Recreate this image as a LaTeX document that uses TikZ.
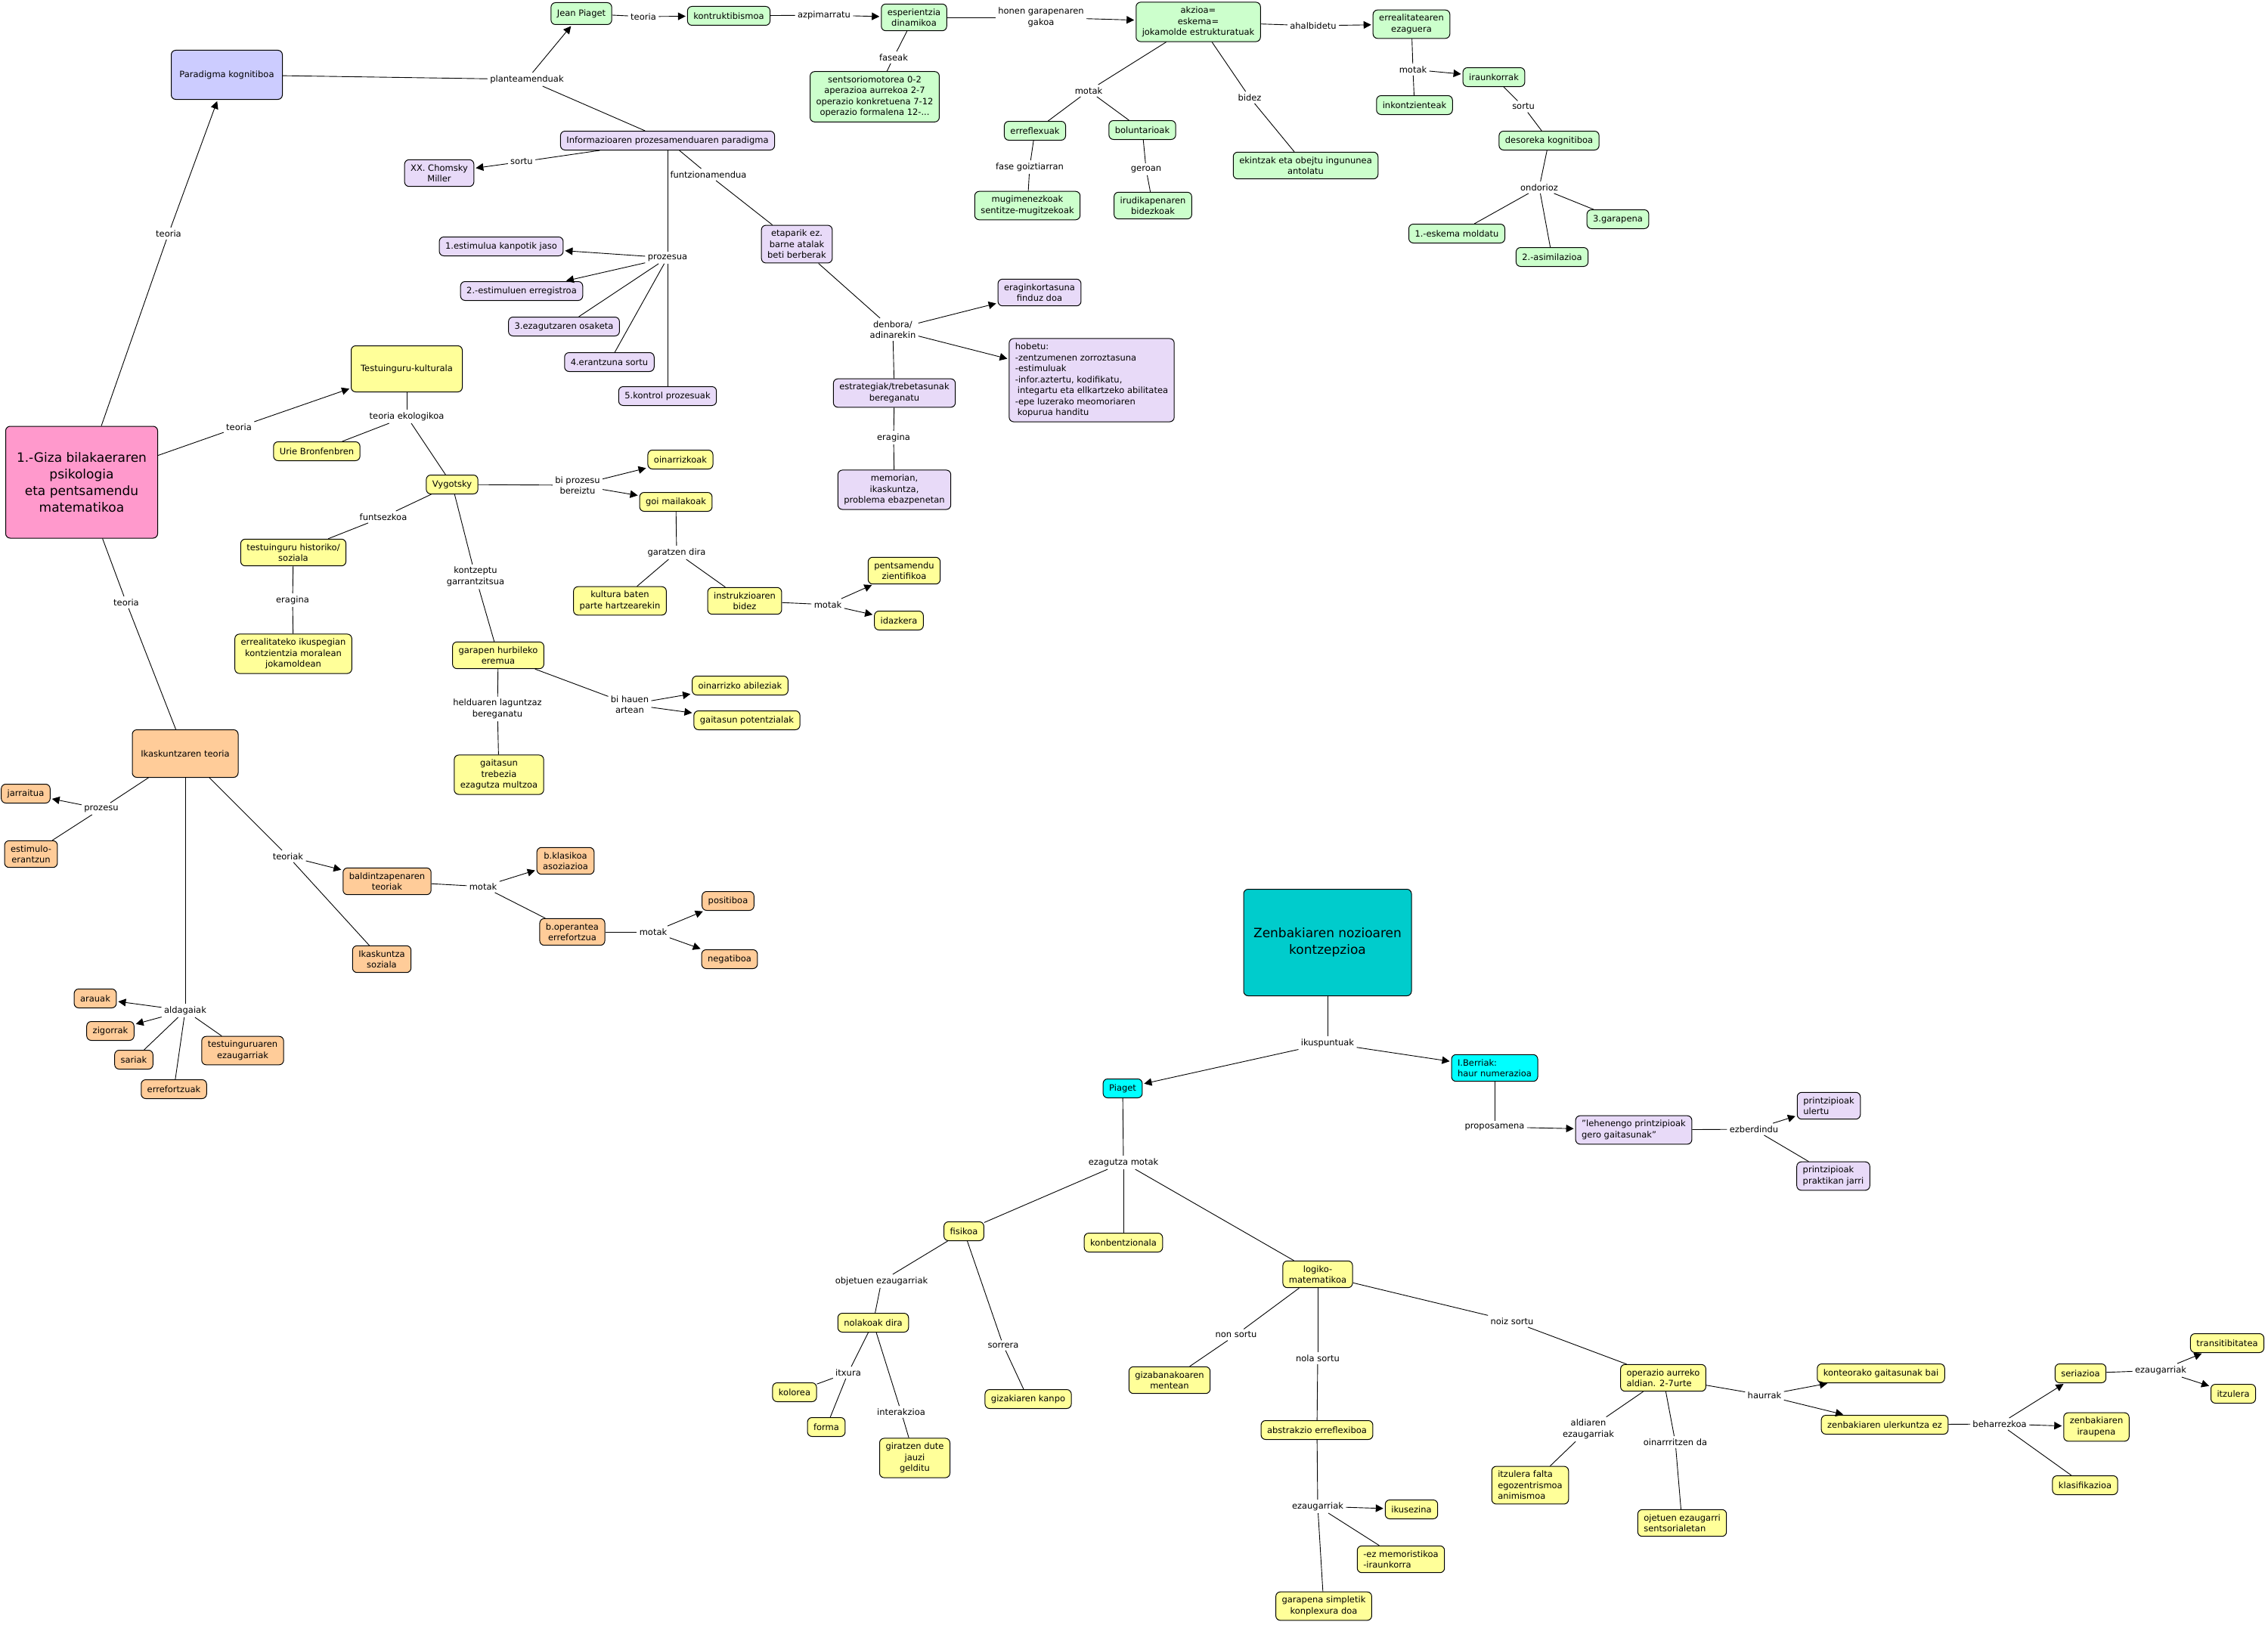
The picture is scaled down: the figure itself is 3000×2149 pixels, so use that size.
\documentclass[tikz,border=0pt]{standalone}
\usepackage{fontspec}
\setmainfont{DejaVu Sans}
\usepackage{tikz}
\usetikzlibrary{arrows.meta}
\definecolor{kolbluea}{RGB}{204,204,255}
\definecolor{kolberdea}{RGB}{204,255,204}
\definecolor{kolmorea}{RGB}{232,218,248}
\definecolor{kolhoria}{RGB}{255,255,153}
\definecolor{kollaranja}{RGB}{255,204,153}
\definecolor{kolarrosa}{RGB}{255,153,204}
\definecolor{kolteal}{RGB}{0,204,204}
\definecolor{kolcyan}{RGB}{0,255,255}
\tikzset{
  concept/.style={rectangle, rounded corners=6pt, draw=black, line width=1pt, align=center, inner xsep=8pt, inner ysep=6pt, minimum height=25pt, font=\fontsize{11.5}{14.5}\selectfont},
  bluebox/.style={concept, fill=kolbluea},
  greenbox/.style={concept, fill=kolberdea},
  lilabox/.style={concept, fill=kolmorea},
  yellowbox/.style={concept, fill=kolhoria},
  orangebox/.style={concept, fill=kollaranja},
  cyanbox/.style={concept, fill=kolcyan},
  bigbox/.style={concept, font=\fontsize{17}{22}\selectfont},
  linkword/.style={inner sep=3pt, align=center, font=\fontsize{11.5}{14.5}\selectfont},
  arrow/.style={->, shorten >=2pt}
}

\begin{document}
\begin{tikzpicture}[x=1pt, y=-1pt, line width=0.9pt, >={Triangle[length=10pt,width=10pt]}]
    \useasboundingbox (0,0) rectangle (3000,2149);

    % 1. Kontzeptu nagusia
    \node[bigbox, fill=kolarrosa, minimum width=201pt, minimum height=148pt] (main) at (108,638) {1.-Giza bilakaeraren\\psikologia\\eta pentsamendu\\matematikoa};

    % 2. Paradigma kognitiboa (berdeak eta moreak)
    \node[bluebox, minimum width=147pt, minimum height=65pt] (parad) at (300,99) {Paradigma kognitiboa};
    \node[greenbox, minimum height=29pt] (jpiaget) at (769,18) {Jean Piaget};
    \node[greenbox] (konstr) at (964,21) {kontruktibismoa};
    \node[greenbox] (esper) at (1209,23) {esperientzia\\dinamikoa};
    \node[greenbox] (akzioa) at (1585,29) {akzioa=\\eskema=\\jokamolde estrukturatuak};
    \node[greenbox] (errealit) at (1867,32) {errealitatearen\\ezaguera};
    \node[greenbox] (fases) at (1157,128) {sentsoriomotorea 0-2\\aperazioa aurrekoa 2-7\\operazio konkretuena 7-12\\operazio formalena 12-...};
    \node[greenbox] (errefl) at (1369,173) {erreflexuak};
    \node[greenbox] (bolunt) at (1511,172) {boluntarioak};
    \node[greenbox] (mugim) at (1359,272) {mugimenezkoak\\sentitze-mugitzekoak};
    \node[greenbox] (irudik) at (1525,272) {irudikapenaren\\bidezkoak};
    \node[greenbox] (ekintzak) at (1727,219) {ekintzak eta obejtu ingununea\\antolatu};
    \node[greenbox] (iraunk) at (1976,102) {iraunkorrak};
    \node[greenbox] (inkontz) at (1871,139) {inkontzienteak};
    \node[greenbox] (desoreka) at (2049,186) {desoreka kognitiboa};
    \node[greenbox] (eskema) at (1927,309) {1.-eskema moldatu};
    \node[greenbox] (asimil) at (2053,340) {2.-asimilazioa};
    \node[greenbox] (garapena) at (2140,290) {3.garapena};

    \node[lilabox] (infopar) at (883,186) {Informazioaren prozesamenduaren paradigma};
    \node[lilabox] (chomsky) at (581,229) {XX. Chomsky\\Miller};
    \node[lilabox] (etaparik) at (1054,323) {etaparik ez.\\barne atalak\\beti berberak};
    \node[lilabox] (estim1) at (663,326) {1.estimulua kanpotik jaso};
    \node[lilabox] (estim2) at (690,385) {2.-estimuluen erregistroa};
    \node[lilabox] (ezag3) at (746,432) {3.ezagutzaren osaketa};
    \node[lilabox] (erantz4) at (806,479) {4.erantzuna sortu};
    \node[lilabox] (kontrol5) at (883,524) {5.kontrol prozesuak};
    \node[lilabox] (eragink) at (1375,387) {eraginkortasuna\\finduz doa};
    \node[lilabox, align=left] (hobetu) at (1444,503) {hobetu:\\-zentzumenen zorroztasuna\\-estimuluak\\-infor.aztertu, kodifikatu,\\\hspace*{3pt}integartu eta ellkartzeko abilitatea\\-epe luzerako meomoriaren\\\hspace*{3pt}kopurua handitu};
    \node[lilabox] (estrat) at (1183,520) {estrategiak/trebetasunak\\bereganatu};
    \node[lilabox] (memorian) at (1183,648) {memorian,\\ikaskuntza,\\problema ebazpenetan};

    % 3. Testuinguru-kulturala (horiak)
    \node[yellowbox, minimum width=147pt, minimum height=61pt] (testuin) at (538,488) {Testuinguru-kulturala};
    \node[yellowbox] (urie) at (419,597) {Urie Bronfenbren};
    \node[yellowbox] (vygot) at (598,641) {Vygotsky};
    \node[yellowbox] (oinarr) at (900,608) {oinarrizkoak};
    \node[yellowbox] (goimail) at (894,664) {goi mailakoak};
    \node[yellowbox] (testhist) at (388,731) {testuinguru historiko/\\soziala};
    \node[yellowbox] (errealik) at (388,865) {errealitateko ikuspegian\\kontzientzia moralean\\jokamoldean};
    \node[yellowbox] (garhurb) at (659,867) {garapen hurbileko\\eremua};
    \node[yellowbox] (gaitasun) at (660,1025) {gaitasun\\trebezia\\ezagutza multzoa};
    \node[yellowbox] (oinabil) at (979,907) {oinarrizko abileziak};
    \node[yellowbox] (gaitpot) at (988,953) {gaitasun potentzialak};
    \node[yellowbox] (kultura) at (820,795) {kultura baten\\parte hartzearekin};
    \node[yellowbox] (instruk) at (985,795) {instrukzioaren\\bidez};
    \node[yellowbox] (pentsam) at (1196,755) {pentsamendu\\zientifikoa};
    \node[yellowbox] (idazk) at (1189,821) {idazkera};

    % 4. Ikaskuntzaren teoria (laranjak)
    \node[orangebox, minimum width=140pt, minimum height=63pt] (ikasteo) at (245,997) {Ikaskuntzaren teoria};
    \node[orangebox] (jarrait) at (34,1050) {jarraitua};
    \node[orangebox] (estimer) at (41,1130) {estimulo-\\erantzun};
    \node[orangebox] (baldin) at (512,1166) {baldintzapenaren\\teoriak};
    \node[orangebox] (bklas) at (748,1139) {b.klasikoa\\asoziazioa};
    \node[orangebox] (boper) at (757,1233) {b.operantea\\errefortzua};
    \node[orangebox] (posit) at (963,1192) {positiboa};
    \node[orangebox] (negat) at (965,1269) {negatiboa};
    \node[orangebox] (ikassoz) at (505,1269) {Ikaskuntza\\soziala};
    \node[orangebox] (arauak) at (126,1321) {arauak};
    \node[orangebox] (zigorr) at (146,1364) {zigorrak};
    \node[orangebox] (sariak) at (177,1402) {sariak};
    \node[orangebox] (testezaug) at (321,1390) {testuinguruaren\\ezaugarriak};
    \node[orangebox] (erref) at (230,1441) {errefortzuak};

    % 5. Zenbakiaren nozioa
    \node[bigbox, fill=kolteal, minimum width=222pt, minimum height=141pt] (zenb) at (1756,1247) {Zenbakiaren nozioaren\\kontzepzioa};
    \node[cyanbox] (piagetb) at (1485,1440) {Piaget};
    \node[cyanbox, align=left] (berriak) at (1977,1413) {I.Berriak:\\haur numerazioa};
    \node[lilabox, align=left] (lehen) at (2161,1495) {"lehenengo printzipioak\\gero gaitasunak"};
    \node[lilabox, align=left] (ulertu) at (2419,1463) {printzipioak\\ulertu};
    \node[lilabox, align=left] (praktik) at (2425,1556) {printzipioak\\praktikan jarri};

    \node[yellowbox] (fisikoa) at (1275,1629) {fisikoa};
    \node[yellowbox] (konbentz) at (1486,1644) {konbentzionala};
    \node[yellowbox] (logiko) at (1743,1686) {logiko-\\matematikoa};
    \node[yellowbox] (nolakoak) at (1155,1750) {nolakoak dira};
    \node[yellowbox] (kolorea) at (1051,1842) {kolorea};
    \node[yellowbox] (forma) at (1093,1888) {forma};
    \node[yellowbox] (giratzen) at (1210,1929) {giratzen dute\\jauzi\\gelditu};
    \node[yellowbox] (gizkanpo) at (1360,1851) {gizakiaren kanpo};
    \node[yellowbox] (gizaban) at (1547,1826) {gizabanakoaren\\mentean};
    \node[yellowbox] (abstrak) at (1742,1892) {abstrakzio erreflexiboa};
    \node[yellowbox] (ikusez) at (1867,1997) {ikusezina};
    \node[yellowbox, align=left] (ezmemor) at (1853,2063) {-ez memoristikoa\\-iraunkorra};
    \node[yellowbox] (garsimp) at (1751,2125) {garapena simpletik\\konplexura doa};
    \node[yellowbox, align=left] (operazio) at (2200,1823) {operazio aurreko\\aldian. 2-7urte};
    \node[yellowbox] (konteo) at (2488,1817) {konteorako gaitasunak bai};
    \node[yellowbox] (zenbuler) at (2493,1885) {zenbakiaren ulerkuntza ez};
    \node[yellowbox] (seriaz) at (2752,1817) {seriazioa};
    \node[yellowbox] (transit) at (2946,1777) {transitibitatea};
    \node[yellowbox] (itzul) at (2954,1844) {itzulera};
    \node[yellowbox] (zenbiraup) at (2773,1888) {zenbakiaren\\iraupena};
    \node[yellowbox] (klasif) at (2758,1965) {klasifikazioa};
    \node[yellowbox, align=left] (itzfalta) at (2024,1965) {itzulera falta\\egozentrismoa\\animismoa};
    \node[yellowbox, align=left] (ojetuen) at (2225,2015) {ojetuen ezaugarri\\sentsorialetan};

    % -------------------------------------------------------------
    % LOTURA HITZAK
    % -------------------------------------------------------------
    \node[linkword] (lTeoriaP) at (223,309) {teoria};
    \node[linkword] (lTeoriaT) at (316,565) {teoria};
    \node[linkword] (lTeoriaI) at (167,797) {teoria};
    \node[linkword] (lPlantea) at (697,105) {planteamenduak};
    \node[linkword] (lTeoriaJ) at (851,22) {teoria};
    \node[linkword] (lAzpim) at (1090,20) {azpimarratu};
    \node[linkword] (lFaseak) at (1182,76) {faseak};
    \node[linkword] (lGakoa) at (1377,23) {honen garapenaren\\gakoa};
    \node[linkword] (lMotakA) at (1440,120) {motak};
    \node[linkword] (lGoiz) at (1362,221) {fase goiztiarran};
    \node[linkword] (lGeroan) at (1516,224) {geroan};
    \node[linkword] (lBidez) at (1653,129) {bidez};
    \node[linkword] (lAhalb) at (1737,34) {ahalbidetu};
    \node[linkword] (lMotakE) at (1869,92) {motak};
    \node[linkword] (lSortuI) at (2015,141) {sortu};
    \node[linkword] (lOndor) at (2036,248) {ondorioz};
    \node[linkword] (lSortuC) at (690,214) {sortu};
    \node[linkword] (lProzesua) at (883,341) {prozesua};
    \node[linkword] (lFuntz) at (937,231) {funtzionamendua};
    \node[linkword] (lDenbora) at (1181,436) {denbora/\\adinarekin};
    \node[linkword] (lEraginE) at (1182,579) {eragina};
    \node[linkword] (lEkolog) at (538,551) {teoria ekologikoa};
    \node[linkword] (lBiProz) at (764,642) {bi prozesu\\bereiztu};
    \node[linkword] (lGaratzen) at (895,731) {garatzen dira};
    \node[linkword] (lMotakI) at (1095,800) {motak};
    \node[linkword] (lFuntsez) at (507,684) {funtsezkoa};
    \node[linkword] (lEraginaT) at (387,794) {eragina};
    \node[linkword] (lKontz) at (629,763) {kontzeptu\\garrantzitsua};
    \node[linkword] (lHelduaren) at (658,938) {helduaren laguntzaz\\bereganatu};
    \node[linkword] (lBiHauen) at (833,932) {bi hauen\\artean};
    \node[linkword] (lProzesu) at (134,1070) {prozesu};
    \node[linkword] (lTeoriak) at (381,1133) {teoriak};
    \node[linkword] (lMotakB) at (639,1173) {motak};
    \node[linkword] (lMotakO) at (864,1233) {motak};
    \node[linkword] (lAldag) at (245,1337) {aldagaiak};
    \node[linkword] (lIkusp) at (1756,1380) {ikuspuntuak};
    \node[linkword] (lPropos) at (1977,1491) {proposamena};
    \node[linkword] (lEzberd) at (2320,1494) {ezberdindu};
    \node[linkword] (lEzagMot) at (1486,1538) {ezagutza motak};
    \node[linkword] (lObjEzaug) at (1166,1695) {objetuen ezaugarriak};
    \node[linkword] (lItxura) at (1122,1816) {itxura};
    \node[linkword] (lInterak) at (1192,1868) {interakzioa};
    \node[linkword] (lSorrera) at (1327,1780) {sorrera};
    \node[linkword] (lNonSortu) at (1635,1766) {non sortu};
    \node[linkword] (lNolaSortu) at (1743,1797) {nola sortu};
    \node[linkword] (lEzaugA) at (1743,1993) {ezaugarriak};
    \node[linkword] (lNoizSortu) at (2000,1748) {noiz sortu};
    \node[linkword] (lHaurrak) at (2334,1846) {haurrak};
    \node[linkword] (lAldiaren) at (2101,1891) {aldiaren\\ezaugarriak};
    \node[linkword] (lOinarr) at (2216,1908) {oinarrritzen da};
    \node[linkword] (lBeharr) at (2645,1884) {beharrezkoa};
    \node[linkword] (lEzaugS) at (2858,1813) {ezaugarriak};

    % -------------------------------------------------------------
    % LOTURAK
    % -------------------------------------------------------------
    \draw (main) -- (lTeoriaP) edge[arrow] (parad);
    \draw (main) -- (lTeoriaT) edge[arrow] (testuin);
    \draw (main) -- (lTeoriaI) edge (ikasteo);

    % Paradigma kognitiboa
    \draw (parad) -- (lPlantea) edge[arrow] (jpiaget) edge (infopar);
    \draw (jpiaget) -- (lTeoriaJ) edge[arrow] (konstr);
    \draw (konstr) -- (lAzpim) edge[arrow] (esper);
    \draw (esper) -- (lFaseak) edge (fases);
    \draw (esper) -- (lGakoa) edge[arrow] (akzioa);
    \draw (akzioa) -- (lMotakA) edge (errefl) edge (bolunt);
    \draw (errefl) -- (lGoiz) edge (mugim);
    \draw (bolunt) -- (lGeroan) edge (irudik);
    \draw (akzioa) -- (lBidez) edge (ekintzak);
    \draw (akzioa) -- (lAhalb) edge[arrow] (errealit);
    \draw (errealit) -- (lMotakE) edge[arrow] (iraunk) edge (inkontz);
    \draw (iraunk) -- (lSortuI) edge (desoreka);
    \draw (desoreka) -- (lOndor) edge (eskema) edge (asimil) edge (garapena);

    % Informazioaren prozesamendua
    \draw (infopar) -- (lSortuC) edge[arrow] (chomsky);
    \draw (infopar) -- (lProzesua) edge[arrow] (estim1) edge[arrow] (estim2) edge (ezag3) edge (erantz4) edge (kontrol5);
    \draw (infopar) -- (lFuntz) edge (etaparik);
    \draw (etaparik) -- (lDenbora) edge[arrow] (eragink) edge[arrow] (hobetu) edge (estrat);
    \draw (estrat) -- (lEraginE) edge (memorian);

    % Testuinguru-kulturala
    \draw (testuin) -- (lEkolog) edge (urie) edge (vygot);
    \draw (vygot) -- (lBiProz) edge[arrow] (oinarr) edge[arrow] (goimail);
    \draw (goimail) -- (lGaratzen) edge (kultura) edge (instruk);
    \draw (instruk) -- (lMotakI) edge[arrow] (pentsam) edge[arrow] (idazk);
    \draw (vygot) -- (lFuntsez) edge (testhist);
    \draw (testhist) -- (lEraginaT) edge (errealik);
    \draw (vygot) -- (lKontz) edge (garhurb);
    \draw (garhurb) -- (lHelduaren) edge (gaitasun);
    \draw (garhurb) -- (lBiHauen) edge[arrow] (oinabil) edge[arrow] (gaitpot);

    % Ikaskuntzaren teoria
    \draw (ikasteo) -- (lProzesu) edge[arrow] (jarrait) edge (estimer);
    \draw (ikasteo) -- (lTeoriak) edge[arrow] (baldin) edge (ikassoz);
    \draw (baldin) -- (lMotakB) edge[arrow] (bklas) edge (boper);
    \draw (boper) -- (lMotakO) edge[arrow] (posit) edge[arrow] (negat);
    \draw (ikasteo) -- (lAldag) edge[arrow] (arauak) edge[arrow] (zigorr) edge (sariak) edge (testezaug) edge (erref);

    % Zenbakiaren nozioa
    \draw (zenb) -- (lIkusp) edge[arrow] (piagetb) edge[arrow] (berriak);
    \draw (berriak) -- (lPropos) edge[arrow] (lehen);
    \draw (lehen) -- (lEzberd) edge[arrow] (ulertu) edge (praktik);
    \draw (piagetb) -- (lEzagMot) edge (fisikoa) edge (konbentz) edge (logiko);
    \draw (fisikoa) -- (lObjEzaug) edge (nolakoak);
    \draw (nolakoak) -- (lItxura) edge (kolorea) edge (forma);
    \draw (nolakoak) -- (lInterak) edge (giratzen);
    \draw (fisikoa) -- (lSorrera) edge (gizkanpo);
    \draw (logiko) -- (lNonSortu) edge (gizaban);
    \draw (logiko) -- (lNolaSortu) edge (abstrak);
    \draw (abstrak) -- (lEzaugA) edge[arrow] (ikusez) edge (ezmemor) edge (garsimp);
    \draw (logiko) -- (lNoizSortu) edge (operazio);
    \draw (operazio) -- (lHaurrak) edge[arrow] (konteo) edge[arrow] (zenbuler);
    \draw (operazio) -- (lAldiaren) edge (itzfalta);
    \draw (operazio) -- (lOinarr) edge (ojetuen);
    \draw (zenbuler) -- (lBeharr) edge[arrow] (seriaz) edge[arrow] (zenbiraup) edge (klasif);
    \draw (seriaz) -- (lEzaugS) edge[arrow] (transit) edge[arrow] (itzul);

\end{tikzpicture}
\end{document}
